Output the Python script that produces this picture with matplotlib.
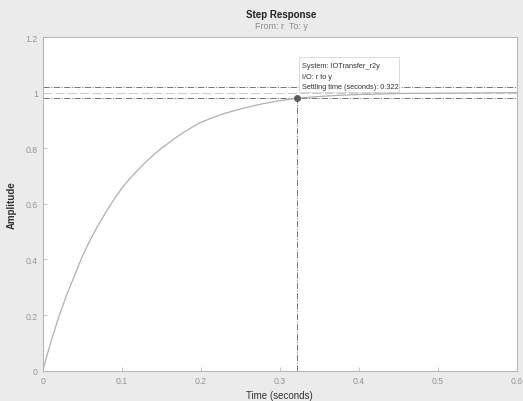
import matplotlib
matplotlib.use('Agg')
import matplotlib.pyplot as plt
from matplotlib.patches import Rectangle

plt.rcParams['font.family'] = ['Liberation Sans', 'DejaVu Sans']

# step response
t_vals = [0, 0.005, 0.01, 0.015, 0.02, 0.025, 0.03, 0.035, 0.04, 0.045, 0.05,
          0.055, 0.06, 0.07, 0.08, 0.09, 0.10, 0.11, 0.12, 0.13, 0.14, 0.15,
          0.16, 0.17, 0.18, 0.19, 0.20, 0.215, 0.23, 0.245, 0.26, 0.275, 0.29,
          0.305, 0.322, 0.34, 0.36, 0.38, 0.40, 0.45, 0.50, 0.55, 0.60]
y_vals = [0, 0.05, 0.10, 0.145, 0.19, 0.23, 0.27, 0.305, 0.34, 0.375, 0.41,
          0.44, 0.47, 0.522, 0.57, 0.615, 0.655, 0.69, 0.72, 0.749, 0.775, 0.799,
          0.82, 0.841, 0.86, 0.877, 0.893, 0.910, 0.925, 0.937, 0.948, 0.958, 0.966,
          0.973, 0.980, 0.984, 0.988, 0.991, 0.993, 0.997, 0.998, 0.999, 1.0]

settle_t = 0.322
settle_y = 0.98
band = [0.98, 1.02]
final_value = 1.0

x_ticks = [0, 0.1, 0.2, 0.3, 0.4, 0.5, 0.6]
y_ticks = [0, 0.2, 0.4, 0.6, 0.8, 1, 1.2]
tip_lines = ['System: IOTransfer_r2y', 'I/O: r to y',
             'Settling time (seconds): 0.322']

fig = plt.figure(figsize=(5.23, 4.02), dpi=100, facecolor='#ebebeb')
ax = fig.add_axes([0.0816, 0.0754, 0.906, 0.830])
ax.set_facecolor('white')

ax.plot(t_vals, y_vals, color='#b0b0b0', lw=0.9, zorder=3, solid_joinstyle='round')
ax.axhline(final_value, color='#cccccc', lw=0.8, ls=(0, (8, 3)), zorder=2)
for b in band:
    ax.axhline(b, color='#747474', lw=0.7, ls='-.', zorder=2)
ax.plot([settle_t, settle_t], [0, settle_y], color='#747474', lw=0.7, ls='-.', zorder=2)
ax.plot([settle_t], [settle_y], 'o', color='#5a5a5a', ms=4, zorder=5)

ax.set_xlim(0, 0.6)
ax.set_ylim(0, 1.2)
ax.set_xticks(x_ticks)
ax.set_xticklabels(['0', '0.1', '0.2', '0.3', '0.4', '0.5', '0.6'])
ax.set_yticks(y_ticks)
ax.set_yticklabels(['0', '0.2', '0.4', '0.6', '0.8', '1', '1.2'])
ax.tick_params(direction='in', length=3, width=0.6, colors='#b8b8b8',
               labelcolor='#959595', labelsize=6.3, top=False, right=False)
for s in ax.spines.values():
    s.set_color('#b8b8b8')
    s.set_linewidth(0.8)

ax.set_xlabel('Time (seconds)', fontsize=7, color='#333333', labelpad=4)
ax.set_ylabel('Amplitude', fontsize=7, color='#333333', fontweight='bold', labelpad=6)
fig.text(0.5385, 0.963, 'Step Response', ha='center', va='center',
         fontsize=7, fontweight='bold', color='#222222')
fig.text(0.5385, 0.933, 'From: r  To: y', ha='center', va='center',
         fontsize=6.5, color='#8a8a8a')

# data tip box
ax.add_patch(Rectangle((0.3245, 1.003), 0.127, 0.125, fc='white', ec='#d4d4d4',
                       lw=0.6, zorder=6, clip_on=False))
for i, line in enumerate(tip_lines):
    ax.text(0.328, 1.096 - i * 0.0375, line, fontsize=5.3, color='#333333',
            ha='left', va='center', zorder=7)

fig.savefig('out.png', dpi=100, facecolor=fig.get_facecolor())
